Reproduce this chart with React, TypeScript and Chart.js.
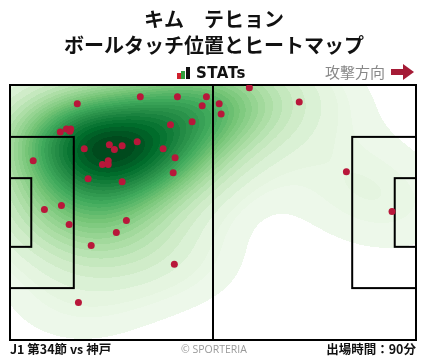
import React, { useEffect, useRef } from "react";
import { Chart, registerables } from "chart.js";

Chart.register(...registerables);

// Ball touch positions, metres on a 105 x 68 pitch (x: attacking to the right, y: from top touchline)
const touchX = [
  33.7, 43.3, 50.8, 17.4, 49.7, 54.1, 54.6, 41.5, 47.1, 13.0,
  14.6, 15.7, 15.5, 25.7, 27.0, 29.0, 32.9, 19.2, 39.6, 42.7,
  6.0, 25.4, 23.9, 25.4, 42.2, 20.2, 29.0, 8.9, 13.3, 30.1,
  15.3, 27.5, 21.0, 42.5, 17.7, 61.9, 74.8, 87.0, 98.8,
];
const touchY = [
  3.1, 3.1, 3.1, 5.0, 5.5, 5.0, 7.7, 10.6, 9.8, 12.5,
  11.7, 11.7, 12.3, 15.9, 17.2, 16.2, 15.1, 17.0, 17.0, 19.4,
  20.2, 20.2, 21.2, 21.2, 23.4, 25.0, 25.8, 33.2, 32.1, 36.1,
  37.2, 39.3, 42.8, 47.8, 58.0, 0.7, 4.5, 23.1, 33.7,
];

const pitchLength = 105;
const pitchWidth = 68;
const penaltyDepth = 16.5;
const penaltyWidth = 40.32;
const goalAreaDepth = 5.5;
const goalAreaWidth = 18.32;

const titleLines = ["キム　テヒョン", "ボールタッチ位置とヒートマップ"];
const footerLeft = "J1 第34節 vs 神戸";
const footerCenter = "© SPORTERIA";
const footerRight = "出場時間：90分";
const directionLabel = "攻撃方向";

const greens = [
  [247, 252, 245], [229, 245, 224], [199, 233, 192], [161, 217, 155],
  [116, 196, 118], [65, 171, 93], [35, 139, 69], [0, 109, 44], [0, 68, 27],
];
const levelCount = 30;
const thresh = 0.016;
const bwAdjust = 1.25;
const colorFloor = 0.05;
const useCorrelation = false;

function greenAt(t: number) {
  const v = Math.max(0, Math.min(1, t)) * (greens.length - 1);
  const i = Math.min(greens.length - 2, Math.floor(v));
  const f = v - i;
  const a = greens[i], b = greens[i + 1];
  return [a[0] + (b[0] - a[0]) * f, a[1] + (b[1] - a[1]) * f, a[2] + (b[2] - a[2]) * f];
}

const pitchPlugin = {
  id: "pitchHeat",
  beforeDatasetsDraw(chart: any) {
    const { ctx, chartArea: a, scales } = chart;
    const xs = scales.x, ys = scales.y;
    const W = Math.round(a.right - a.left), H = Math.round(a.bottom - a.top);
    const n = touchX.length;
    let mx = 0, my = 0;
    for (let i = 0; i < n; i++) { mx += touchX[i]; my += touchY[i]; }
    mx /= n; my /= n;
    let sxx = 0, syy = 0, sxy = 0;
    for (let i = 0; i < n; i++) {
      const dx = touchX[i] - mx, dy = touchY[i] - my;
      sxx += dx * dx; syy += dy * dy; sxy += dx * dy;
    }
    sxx /= n - 1; syy /= n - 1; sxy /= n - 1;
    if (!useCorrelation) sxy = 0;
    const f2 = Math.pow(n, -1 / 3) * bwAdjust * bwAdjust;
    const cxx = sxx * f2, cyy = syy * f2, cxy = sxy * f2;
    const det = cxx * cyy - cxy * cxy;
    const ixx = cyy / det, iyy = cxx / det, ixy = -cxy / det;
    const dens = new Float64Array(W * H);
    let total = 0;
    for (let j = 0; j < H; j++) {
      const vy = ys.getValueForPixel(a.top + j + 0.5);
      for (let i = 0; i < W; i++) {
        const vx = xs.getValueForPixel(a.left + i + 0.5);
        let s = 0;
        for (let k = 0; k < n; k++) {
          const dx = vx - touchX[k], dy = vy - touchY[k];
          s += Math.exp(-0.5 * (ixx * dx * dx + 2 * ixy * dx * dy + iyy * dy * dy));
        }
        dens[j * W + i] = s;
        total += s;
      }
    }
    const sorted = Array.from(dens).sort((p, q) => q - p);
    const levels: number[] = [];
    for (let l = 0; l < levelCount; l++) {
      const iso = thresh + (1 - thresh) * (l / (levelCount - 1));
      const target = (1 - iso) * total;
      let cum = 0, idx = 0;
      while (idx < sorted.length - 1 && cum + sorted[idx] < target) { cum += sorted[idx]; idx++; }
      levels.push(sorted[Math.min(idx, sorted.length - 1)]);
    }
    levels.sort((p, q) => p - q);
    const lo = levels[0], hi = levels[levels.length - 1];
    const layerColors = [];
    for (let l = 0; l < levels.length - 1; l++) {
      const mid = (levels[l] + levels[l + 1]) / 2;
      layerColors.push(greenAt(colorFloor + (1 - colorFloor) * (mid - lo) / (hi - lo)));
    }
    const off = document.createElement("canvas");
    off.width = W; off.height = H;
    const octx = off.getContext("2d")!;
    const img = octx.createImageData(W, H);
    for (let p = 0; p < W * H; p++) {
      const d = dens[p];
      if (d < lo) continue;
      let l = 0;
      while (l < levels.length - 2 && d >= levels[l + 1]) l++;
      const c = layerColors[l];
      img.data[p * 4] = c[0]; img.data[p * 4 + 1] = c[1]; img.data[p * 4 + 2] = c[2]; img.data[p * 4 + 3] = 255;
    }
    octx.putImageData(img, 0, 0);
    ctx.save();
    ctx.drawImage(off, a.left, a.top);
    // pitch markings
    const px = (v: number) => xs.getPixelForValue(v);
    const py = (v: number) => ys.getPixelForValue(v);
    ctx.strokeStyle = "#000";
    ctx.lineWidth = 2;
    const rect = (x0: number, y0: number, x1: number, y1: number) => {
      ctx.strokeRect(px(x0), py(y0), px(x1) - px(x0), py(y1) - py(y0));
    };
    rect(0, 0, pitchLength, pitchWidth);
    ctx.beginPath();
    ctx.moveTo(px(pitchLength / 2), py(0));
    ctx.lineTo(px(pitchLength / 2), py(pitchWidth));
    ctx.stroke();
    const cy = pitchWidth / 2;
    rect(0, cy - penaltyWidth / 2, penaltyDepth, cy + penaltyWidth / 2);
    rect(0, cy - goalAreaWidth / 2, goalAreaDepth, cy + goalAreaWidth / 2);
    rect(pitchLength - penaltyDepth, cy - penaltyWidth / 2, pitchLength, cy + penaltyWidth / 2);
    rect(pitchLength - goalAreaDepth, cy - goalAreaWidth / 2, pitchLength, cy + goalAreaWidth / 2);
    ctx.restore();
  },
};

export default function App() {
  const ref = useRef<HTMLCanvasElement>(null);
  useEffect(() => {
    document.body.style.margin = "0";
    const chart = new Chart(ref.current!, {
      type: "scatter",
      data: {
        datasets: [
          {
            data: touchX.map((x, i) => ({ x, y: touchY[i] })),
            backgroundColor: "#b8173a",
            borderWidth: 0,
            pointRadius: 3.5,
          },
        ],
      },
      options: {
        responsive: false,
        animation: false,
        layout: { padding: { left: 10, top: 85, right: 12, bottom: 19 } },
        scales: {
          x: { type: "linear", min: 0, max: pitchLength, display: false },
          y: { type: "linear", min: 0, max: pitchWidth, reverse: true, display: false },
        },
        plugins: { legend: { display: false }, tooltip: { enabled: false }, title: { display: false } },
      },
      plugins: [pitchPlugin],
    });
    return () => chart.destroy();
  }, []);

  const jp = '"Noto Sans CJK JP", "Noto Sans", sans-serif';
  return (
    <div style={{ position: "fixed", left: 0, top: 0, width: 428, height: 359, background: "#fff", fontFamily: jp, overflow: "hidden" }}>
      <canvas ref={ref} width={428} height={359} style={{ position: "absolute", left: 0, top: 0 }} />
      <div style={{ position: "absolute", left: 0, top: 6, width: 428, textAlign: "center", fontWeight: 700, fontSize: 20, lineHeight: "26px", color: "#111" }}>
        <div>{titleLines[0]}</div>
        <div>{titleLines[1]}</div>
      </div>
      <div style={{ position: "absolute", left: 177, top: 73, width: 4, height: 6, background: "#d0202e" }} />
      <div style={{ position: "absolute", left: 181, top: 71, width: 4, height: 8, background: "#2f9e3c" }} />
      <div style={{ position: "absolute", left: 186, top: 67, width: 4, height: 12, background: "#111" }} />
      <div style={{ position: "absolute", left: 196, top: 63, fontFamily: '"DejaVu Sans", sans-serif', fontWeight: 700, fontSize: 15, lineHeight: "20px", color: "#111", letterSpacing: 0.5 }}>STATs</div>
      <div style={{ position: "absolute", right: 43, top: 61, fontSize: 15, lineHeight: "22px", color: "#888" }}>{directionLabel}</div>
      <svg style={{ position: "absolute", left: 390, top: 63 }} width={26} height={19}>
        <polygon points="1,6 13,6 13,1 24,9 13,17 13,12 1,12" fill="#a51b36" />
      </svg>
      <div style={{ position: "absolute", left: 10, top: 340, fontSize: 12.5, fontWeight: 700, lineHeight: "18px", color: "#111" }}>{footerLeft}</div>
      <div style={{ position: "absolute", left: 0, width: 428, top: 341, textAlign: "center", fontSize: 10.5, lineHeight: "16px", color: "#999", fontFamily: '"Open Sans", sans-serif' }}>{footerCenter}</div>
      <div style={{ position: "absolute", right: 12, top: 340, fontSize: 12.5, fontWeight: 700, lineHeight: "18px", color: "#111" }}>{footerRight}</div>
    </div>
  );
}
